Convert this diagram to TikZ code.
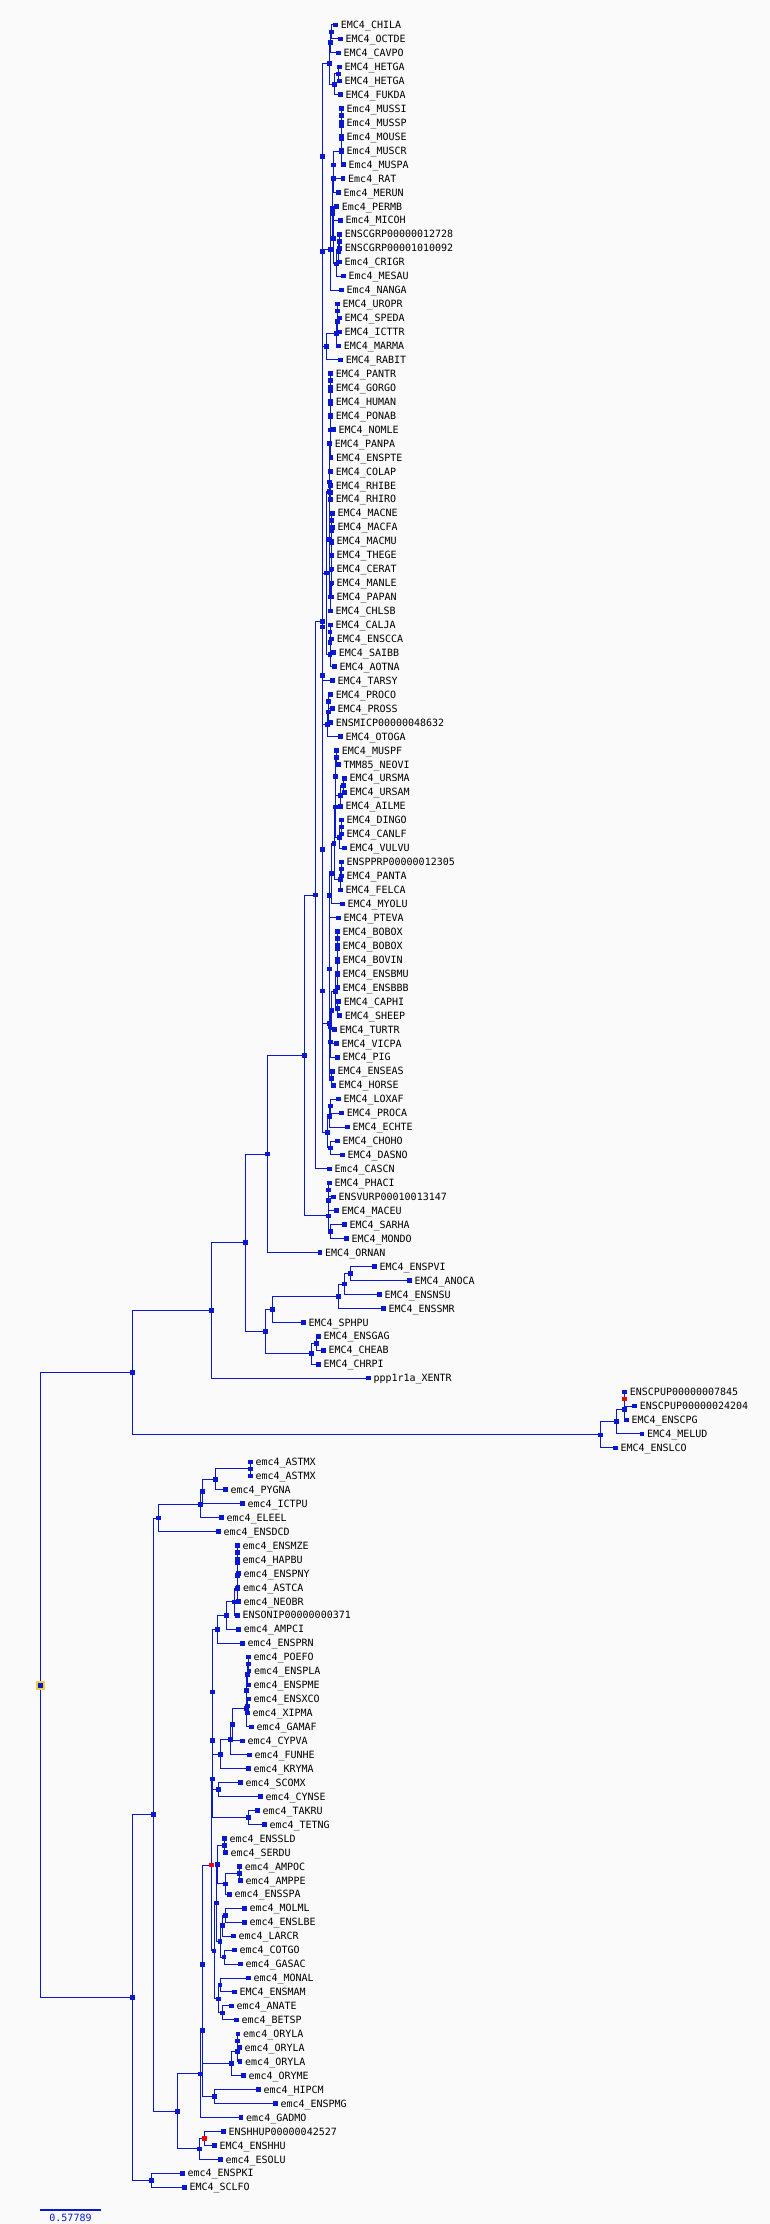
\documentclass[tikz,border=0pt]{standalone}
\usepackage{fontspec}
\setmonofont{DejaVu Sans Mono}
\usetikzlibrary{calc}
\definecolor{treeblue}{RGB}{10,25,205}
\definecolor{bgray}{RGB}{250,250,250}
\definecolor{rootyel}{RGB}{240,205,75}
\pgfdeclarelayer{bg}
\pgfdeclarelayer{edges}
\pgfsetlayers{bg,edges,main}
\tikzset{
  mk/.style={fill=treeblue,inner sep=0pt,minimum size=4.6pt},
  mkred/.style={mk,fill=red},
  rootmk/.style={mk,draw=rootyel,line width=2pt,minimum size=7pt},
  br/.style={draw=treeblue,line width=1pt},
  lbl/.style={anchor=base west,inner sep=0pt,font=\ttfamily}
}
% leaf: name, x, row, text
\newcommand\leaf[4]{%
  \node[mk] (#1) at (#2,{25+13.95*(#3-1)}) {};
  \node[lbl] (t#1) at ([xshift=5pt,yshift=-3.65pt]#1.center) {#4};}
% inner node: [style] name, x, child, child
\newcommand\inode[5][mk]{%
  \path let \p1=(#4.center), \p2=(#5.center) in
    node[#1] (#2) at (#3pt,{0.5*\y1+0.5*\y2}) {};
  \begin{pgfonlayer}{edges}
    \draw[br] (#2.center) |- (#4.center) (#2.center) |- (#5.center);
  \end{pgfonlayer}}

\begin{document}
\begin{tikzpicture}[x=1pt,y=-1pt]
\begin{pgfonlayer}{bg}
  \fill[bgray] (0,0) rectangle (770,2224);
\end{pgfonlayer}
\useasboundingbox (0,0) rectangle (770,2224);

% leaves
\leaf{chila}{335.7}{1}{EMC4\_CHILA}
\leaf{octde}{340.3}{2}{EMC4\_OCTDE}
\leaf{cavpo}{338.3}{3}{EMC4\_CAVPO}
\leaf{hetgaa}{339.3}{4}{EMC4\_HETGA}
\leaf{hetgab}{339.3}{5}{EMC4\_HETGA}
\leaf{fukda}{340.3}{6}{EMC4\_FUKDA}
\leaf{mussi}{341.3}{7}{Emc4\_MUSSI}
\leaf{mussp}{341.3}{8}{Emc4\_MUSSP}
\leaf{mouse}{341.3}{9}{Emc4\_MOUSE}
\leaf{muscr}{341.3}{10}{Emc4\_MUSCR}
\leaf{muspa}{343.3}{11}{Emc4\_MUSPA}
\leaf{rat}{343}{12}{Emc4\_RAT}
\leaf{merun}{338.3}{13}{Emc4\_MERUN}
\leaf{permb}{336.7}{14}{Emc4\_PERMB}
\leaf{micoh}{340.3}{15}{Emc4\_MICOH}
\leaf{cgra}{339.7}{16}{ENSCGRP00000012728}
\leaf{cgrb}{339.7}{17}{ENSCGRP00001010092}
\leaf{crigr}{339.3}{18}{Emc4\_CRIGR}
\leaf{mesau}{343.3}{19}{Emc4\_MESAU}
\leaf{nanga}{341.3}{20}{Emc4\_NANGA}
\leaf{uropr}{337.3}{21}{EMC4\_UROPR}
\leaf{speda}{339.3}{22}{EMC4\_SPEDA}
\leaf{icttr}{339.3}{23}{EMC4\_ICTTR}
\leaf{marma}{338.7}{24}{EMC4\_MARMA}
\leaf{rabit}{340.7}{25}{EMC4\_RABIT}
\leaf{pantr}{330.7}{26}{EMC4\_PANTR}
\leaf{gorgo}{330.7}{27}{EMC4\_GORGO}
\leaf{human}{330.7}{28}{EMC4\_HUMAN}
\leaf{ponab}{330.7}{29}{EMC4\_PONAB}
\leaf{nomle}{333.3}{30}{EMC4\_NOMLE}
\leaf{panpa}{329.7}{31}{EMC4\_PANPA}
\leaf{enspte}{331}{32}{EMC4\_ENSPTE}
\leaf{colap}{330.7}{33}{EMC4\_COLAP}
\leaf{rhibe}{330.7}{34}{EMC4\_RHIBE}
\leaf{rhiro}{330.7}{35}{EMC4\_RHIRO}
\leaf{macne}{332.3}{36}{EMC4\_MACNE}
\leaf{macfa}{332.3}{37}{EMC4\_MACFA}
\leaf{macmu}{331.3}{38}{EMC4\_MACMU}
\leaf{thege}{331.3}{39}{EMC4\_THEGE}
\leaf{cerat}{331.3}{40}{EMC4\_CERAT}
\leaf{manle}{331.3}{41}{EMC4\_MANLE}
\leaf{papan}{331.3}{42}{EMC4\_PAPAN}
\leaf{chlsb}{330.3}{43}{EMC4\_CHLSB}
\leaf{calja}{330.3}{44}{EMC4\_CALJA}
\leaf{ensca}{331.7}{45}{EMC4\_ENSCCA}
\leaf{saibb}{333.7}{46}{EMC4\_SAIBB}
\leaf{aotna}{334.3}{47}{EMC4\_AOTNA}
\leaf{tarsy}{332.3}{48}{EMC4\_TARSY}
\leaf{proco}{330.7}{49}{EMC4\_PROCO}
\leaf{pross}{332.3}{50}{EMC4\_PROSS}
\leaf{micp}{330.7}{51}{ENSMICP00000048632}
\leaf{otoga}{340.3}{52}{EMC4\_OTOGA}
\leaf{muspf}{336.7}{53}{EMC4\_MUSPF}
\leaf{neovi}{338.3}{54}{TMM85\_NEOVI}
\leaf{ursma}{344.3}{55}{EMC4\_URSMA}
\leaf{ursam}{344.3}{56}{EMC4\_URSAM}
\leaf{ailme}{340.3}{57}{EMC4\_AILME}
\leaf{dingo}{341.3}{58}{EMC4\_DINGO}
\leaf{canlf}{341.3}{59}{EMC4\_CANLF}
\leaf{vulvu}{344.3}{60}{EMC4\_VULVU}
\leaf{ppr}{341.3}{61}{ENSPPRP00000012305}
\leaf{panta}{341.3}{62}{EMC4\_PANTA}
\leaf{felca}{340.3}{63}{EMC4\_FELCA}
\leaf{myolu}{342.3}{64}{EMC4\_MYOLU}
\leaf{pteva}{338.3}{65}{EMC4\_PTEVA}
\leaf{boboxa}{337.3}{66}{EMC4\_BOBOX}
\leaf{boboxb}{337.3}{67}{EMC4\_BOBOX}
\leaf{bovin}{337.3}{68}{EMC4\_BOVIN}
\leaf{bmu}{337.3}{69}{EMC4\_ENSBMU}
\leaf{bbb}{337.3}{70}{EMC4\_ENSBBB}
\leaf{caphi}{338.7}{71}{EMC4\_CAPHI}
\leaf{sheep}{339.7}{72}{EMC4\_SHEEP}
\leaf{turtr}{334.3}{73}{EMC4\_TURTR}
\leaf{vicpa}{336.3}{74}{EMC4\_VICPA}
\leaf{pig}{337.3}{75}{EMC4\_PIG}
\leaf{eas}{332.3}{76}{EMC4\_ENSEAS}
\leaf{horse}{333.3}{77}{EMC4\_HORSE}
\leaf{loxaf}{338.3}{78}{EMC4\_LOXAF}
\leaf{proca}{341.7}{79}{EMC4\_PROCA}
\leaf{echte}{347.3}{80}{EMC4\_ECHTE}
\leaf{choho}{337.3}{81}{EMC4\_CHOHO}
\leaf{dasno}{342.3}{82}{EMC4\_DASNO}
\leaf{cascn}{329.3}{83}{Emc4\_CASCN}
\leaf{phaci}{329.3}{84}{EMC4\_PHACI}
\leaf{vurp}{333.3}{85}{ENSVURP00010013147}
\leaf{maceu}{336.3}{86}{EMC4\_MACEU}
\leaf{sarha}{344.3}{87}{EMC4\_SARHA}
\leaf{mondo}{346.3}{88}{EMC4\_MONDO}
\leaf{ornan}{320}{89}{EMC4\_ORNAN}
\leaf{pvi}{374.3}{90}{EMC4\_ENSPVI}
\leaf{anoca}{409.3}{91}{EMC4\_ANOCA}
\leaf{nsu}{379.3}{92}{EMC4\_ENSNSU}
\leaf{smr}{383.3}{93}{EMC4\_ENSSMR}
\leaf{sphpu}{303.3}{94}{EMC4\_SPHPU}
\leaf{gag}{318.3}{95}{EMC4\_ENSGAG}
\leaf{cheab}{323.3}{96}{EMC4\_CHEAB}
\leaf{chrpi}{318.3}{97}{EMC4\_CHRPI}
\leaf{xentr}{368.3}{98}{ppp1r1a\_XENTR}
\leaf{cpua}{624.7}{99}{ENSCPUP00000007845}
\leaf{cpub}{634.7}{100}{ENSCPUP00000024204}
\leaf{cpg}{626.3}{101}{EMC4\_ENSCPG}
\leaf{melud}{642}{102}{EMC4\_MELUD}
\leaf{lco}{615.3}{103}{EMC4\_ENSLCO}
\leaf{astmxa}{250.3}{104}{emc4\_ASTMX}
\leaf{astmxb}{250.3}{105}{emc4\_ASTMX}
\leaf{pygna}{225.3}{106}{emc4\_PYGNA}
\leaf{ictpu}{242.3}{107}{emc4\_ICTPU}
\leaf{eleel}{221.3}{108}{emc4\_ELEEL}
\leaf{dcd}{218.3}{109}{emc4\_ENSDCD}
\leaf{mze}{237.3}{110}{emc4\_ENSMZE}
\leaf{hapbu}{237.3}{111}{emc4\_HAPBU}
\leaf{pny}{238.3}{112}{emc4\_ENSPNY}
\leaf{astca}{238}{113}{emc4\_ASTCA}
\leaf{neobr}{238.3}{114}{emc4\_NEOBR}
\leaf{onip}{237.3}{115}{ENSONIP00000000371}
\leaf{ampci}{238.7}{116}{emc4\_AMPCI}
\leaf{prn}{242.3}{117}{emc4\_ENSPRN}
\leaf{poefo}{248.3}{118}{emc4\_POEFO}
\leaf{pla}{249}{119}{emc4\_ENSPLA}
\leaf{pme}{248.3}{120}{emc4\_ENSPME}
\leaf{xco}{248.3}{121}{emc4\_ENSXCO}
\leaf{xipma}{247.3}{122}{emc4\_XIPMA}
\leaf{gamaf}{251.3}{123}{emc4\_GAMAF}
\leaf{cypva}{242.3}{124}{emc4\_CYPVA}
\leaf{funhe}{249.3}{125}{emc4\_FUNHE}
\leaf{kryma}{248.3}{126}{emc4\_KRYMA}
\leaf{scomx}{240.3}{127}{emc4\_SCOMX}
\leaf{cynse}{260.3}{128}{emc4\_CYNSE}
\leaf{takru}{257.3}{129}{emc4\_TAKRU}
\leaf{tetng}{264.3}{130}{emc4\_TETNG}
\leaf{sld}{224.3}{131}{emc4\_ENSSLD}
\leaf{serdu}{225.3}{132}{emc4\_SERDU}
\leaf{ampoc}{239.7}{133}{emc4\_AMPOC}
\leaf{amppe}{240.3}{134}{emc4\_AMPPE}
\leaf{sspa}{229.3}{135}{emc4\_ENSSPA}
\leaf{molml}{244.3}{136}{emc4\_MOLML}
\leaf{lbe}{244.3}{137}{emc4\_ENSLBE}
\leaf{larcr}{233.3}{138}{emc4\_LARCR}
\leaf{cotgo}{234.3}{139}{emc4\_COTGO}
\leaf{gasac}{240.3}{140}{emc4\_GASAC}
\leaf{monal}{248.3}{141}{emc4\_MONAL}
\leaf{smam}{234.3}{142}{EMC4\_ENSMAM}
\leaf{anate}{231.3}{143}{emc4\_ANATE}
\leaf{betsp}{236.3}{144}{emc4\_BETSP}
\leaf{orylaa}{238}{145}{emc4\_ORYLA}
\leaf{orylab}{239.3}{146}{emc4\_ORYLA}
\leaf{orylac}{240}{147}{emc4\_ORYLA}
\leaf{oryme}{243.3}{148}{emc4\_ORYME}
\leaf{hipcm}{258.3}{149}{emc4\_HIPCM}
\leaf{pmg}{275.3}{150}{emc4\_ENSPMG}
\leaf{gadmo}{241}{151}{emc4\_GADMO}
\leaf{hhup}{223.3}{152}{ENSHHUP00000042527}
\leaf{hhu}{214.3}{153}{EMC4\_ENSHHU}
\leaf{esolu}{220.3}{154}{emc4\_ESOLU}
\leaf{pki}{182.3}{155}{emc4\_ENSPKI}
\leaf{sclfo}{184.3}{156}{EMC4\_SCLFO}

% rodents and rabbit
\inode{n1}{331.7}{chila}{octde}
\inode{n2}{330.3}{n1}{cavpo}
\inode{n3}{338.3}{hetgaa}{hetgab}
\inode{n4}{334.3}{n3}{fukda}
\inode{hys}{329.3}{n2}{n4}
\inode{m1}{341.3}{mussi}{mussp}
\inode{m2}{341.3}{m1}{mouse}
\inode{m3}{341.3}{m2}{muscr}
\inode{mus}{341.3}{m3}{muspa}
\inode{murin}{333.3}{mus}{rat}
\inode{m4}{333.3}{murin}{merun}
\inode{c1}{332.7}{permb}{micoh}
\inode{c2}{339.3}{cgra}{cgrb}
\inode{c3}{338.3}{c2}{crigr}
\inode{c4}{336.7}{c3}{mesau}
\inode{cric}{333.3}{c1}{c4}
\inode{m5}{332.7}{m4}{cric}
\inode{muro}{330.7}{m5}{nanga}
\inode{rod}{322.3}{hys}{muro}
\inode{s1}{337.3}{uropr}{speda}
\inode{s2}{337.3}{s1}{icttr}
\inode{s3}{336.7}{s2}{marma}
\inode{s4}{326.7}{s3}{rabit}
\inode{glires}{322.3}{rod}{s4}
% primates
\inode{h1}{330.7}{pantr}{gorgo}
\inode{h2}{330.7}{h1}{human}
\inode{h3}{330.7}{h2}{ponab}
\inode{h4}{330.7}{h3}{nomle}
\inode{h5}{330}{h4}{panpa}
\inode{hom}{330}{h5}{enspte}
\inode{r1}{330.7}{rhibe}{rhiro}
\inode{col}{329.7}{colap}{r1}
\inode{k1}{331.3}{macne}{macfa}
\inode{k2}{331.3}{k1}{macmu}
\inode{k3}{331.3}{k2}{thege}
\inode{k4}{331.3}{k3}{cerat}
\inode{k5}{331}{k4}{manle}
\inode{k6}{331}{k5}{papan}
\inode{cer}{330}{k6}{chlsb}
\inode{cmon}{329.3}{col}{cer}
\inode{cat}{329}{hom}{cmon}
\inode{p1}{330}{calja}{ensca}
\inode{p2}{330}{p1}{saibb}
\inode{plat}{330}{p2}{aotna}
\inode{sim}{326.7}{cat}{plat}
\inode{hap}{322.7}{sim}{tarsy}
\inode{q1}{328.3}{proco}{pross}
\inode{q2}{328.3}{q1}{micp}
\inode{strep}{327.3}{q2}{otoga}
\inode{prim}{322.3}{hap}{strep}
% laurasiatheria
\inode{u1}{336.7}{muspf}{neovi}
\inode{u2}{343.3}{ursma}{ursam}
\inode{u3}{340.3}{u2}{ailme}
\inode{arc}{335.7}{u1}{u3}
\inode{d1}{341.3}{dingo}{canlf}
\inode{can}{339.3}{d1}{vulvu}
\inode{cnf}{335.7}{arc}{can}
\inode{f1}{341.3}{ppr}{panta}
\inode{fel}{340.3}{f1}{felca}
\inode{carn}{334}{cnf}{fel}
\inode{b1}{331.7}{carn}{myolu}
\inode{b2}{329.3}{b1}{pteva}
\inode{v1}{337.3}{boboxa}{boboxb}
\inode{v2}{337.3}{v1}{bovin}
\inode{v3}{337.3}{v2}{bmu}
\inode{bov}{337.3}{v3}{bbb}
\inode{cap}{337.3}{caphi}{sheep}
\inode{bovd}{335.7}{bov}{cap}
\inode{t1}{331.7}{bovd}{turtr}
\inode{t2}{330}{t1}{vicpa}
\inode{cet}{330.7}{t2}{pig}
\inode{l1}{329.3}{b2}{cet}
\inode{per}{331.7}{eas}{horse}
\inode{laur}{329.3}{l1}{per}
\inode{a1}{330.3}{loxaf}{proca}
\inode{afr}{329.3}{a1}{echte}
\inode{xen}{330.7}{choho}{dasno}
\inode{atl}{327.3}{afr}{xen}
\inode{bor1}{322.3}{prim}{laur}
\inode{bor2}{322.3}{bor1}{atl}
\inode{eu1}{322.3}{glires}{bor2}
\inode{eut}{315.3}{eu1}{cascn}
% marsupials, monotreme
\inode{w1}{328.3}{phaci}{vurp}
\inode{w2}{328.3}{w1}{maceu}
\inode{w3}{330.3}{sarha}{mondo}
\inode{mar}{328.3}{w2}{w3}
\inode{ther}{304.3}{eut}{mar}
\inode{mamm}{267.3}{ther}{ornan}
% sauropsids
\inode{g1}{350.3}{pvi}{anoca}
\inode{g2}{344.3}{g1}{nsu}
\inode{sq}{338.3}{g2}{smr}
\inode{g3}{272.3}{sq}{sphpu}
\inode{e1}{316.3}{gag}{cheab}
\inode{tur}{311.3}{e1}{chrpi}
\inode{sau}{265.3}{g3}{tur}
\inode{amn}{245.7}{mamm}{sau}
\inode{tet}{211.3}{amn}{xentr}
\inode[mkred]{o1}{624.7}{cpua}{cpub}
\inode{o2}{624.7}{o1}{cpg}
\inode{o3}{616.3}{o2}{melud}
\inode{o4}{600.7}{o3}{lco}
\inode{sar}{132.3}{tet}{o4}
% fishes
\inode{x1}{250.3}{astmxa}{astmxb}
\inode{x2}{215.3}{x1}{pygna}
\inode{x3}{202.3}{x2}{ictpu}
\inode{x4}{200.3}{x3}{eleel}
\inode{x5}{158.7}{x4}{dcd}
\inode{y1}{237.3}{mze}{hapbu}
\inode{y2}{237.3}{y1}{pny}
\inode{y3}{237.3}{y2}{astca}
\inode{y4}{237.3}{y3}{neobr}
\inode{y5}{234.3}{y4}{onip}
\inode{y6}{226.3}{y5}{ampci}
\inode{y7}{217.3}{y6}{prn}
\inode{z1}{248.3}{poefo}{pla}
\inode{z2}{247.7}{z1}{pme}
\inode{z3}{247.3}{xco}{xipma}
\inode{z4}{246.3}{z2}{z3}
\inode{z5}{246.7}{z4}{gamaf}
\inode{z6}{232.3}{z5}{cypva}
\inode{z7}{230.3}{z6}{funhe}
\inode{z8}{220.3}{z7}{kryma}
\inode{y8}{212.3}{y7}{z8}
\inode{sc}{218.3}{scomx}{cynse}
\inode{y9}{212.3}{y8}{sc}
\inode{tk}{248.3}{takru}{tetng}
\inode{y10}{212.3}{y9}{tk}
\inode{pa}{224.3}{sld}{serdu}
\inode{pb}{239.3}{ampoc}{amppe}
\inode{pc}{225.3}{pb}{sspa}
\inode{pd}{217.3}{pa}{pc}
\inode{pe}{225.3}{molml}{lbe}
\inode{pf}{222.3}{pe}{larcr}
\inode{pg}{224}{cotgo}{gasac}
\inode{ph}{220}{pf}{pg}
\inode{pn}{216.3}{pd}{ph}
\inode{pj}{220}{monal}{smam}
\inode{pk}{222.3}{anate}{betsp}
\inode{pl}{218.3}{pj}{pk}
\inode{pq}{214}{pn}{pl}
\inode[mkred]{r2}{211.3}{y10}{pq}
\inode{or1}{237.3}{orylaa}{orylab}
\inode{or2}{237.3}{or1}{orylac}
\inode{or3}{231.3}{or2}{oryme}
\inode{wq}{202.3}{r2}{or3}
\inode{hp}{214.3}{hipcm}{pmg}
\inode{yy}{202.3}{wq}{hp}
\inode{gd}{200.3}{yy}{gadmo}
\inode[mkred]{es1}{204.3}{hhup}{hhu}
\inode{es2}{199.3}{es1}{esolu}
\inode{xx}{177.3}{gd}{es2}
\inode{tel}{153.3}{x5}{xx}
\inode{pk2}{151.3}{pki}{sclfo}
\inode{act}{132.3}{tel}{pk2}
\inode[rootmk]{root}{40.3}{sar}{act}

% scale bar
\coordinate (sb1) at (40.3,2209.7);
\coordinate (sb2) at (100.7,2209.7);
\draw[treeblue,line width=1.8pt] (sb1) -- (sb2);
\node[font=\ttfamily,text=treeblue,anchor=base,inner sep=0pt] (sbt) at (70.5,2221.3) {0.57789};
\end{tikzpicture}
\end{document}
